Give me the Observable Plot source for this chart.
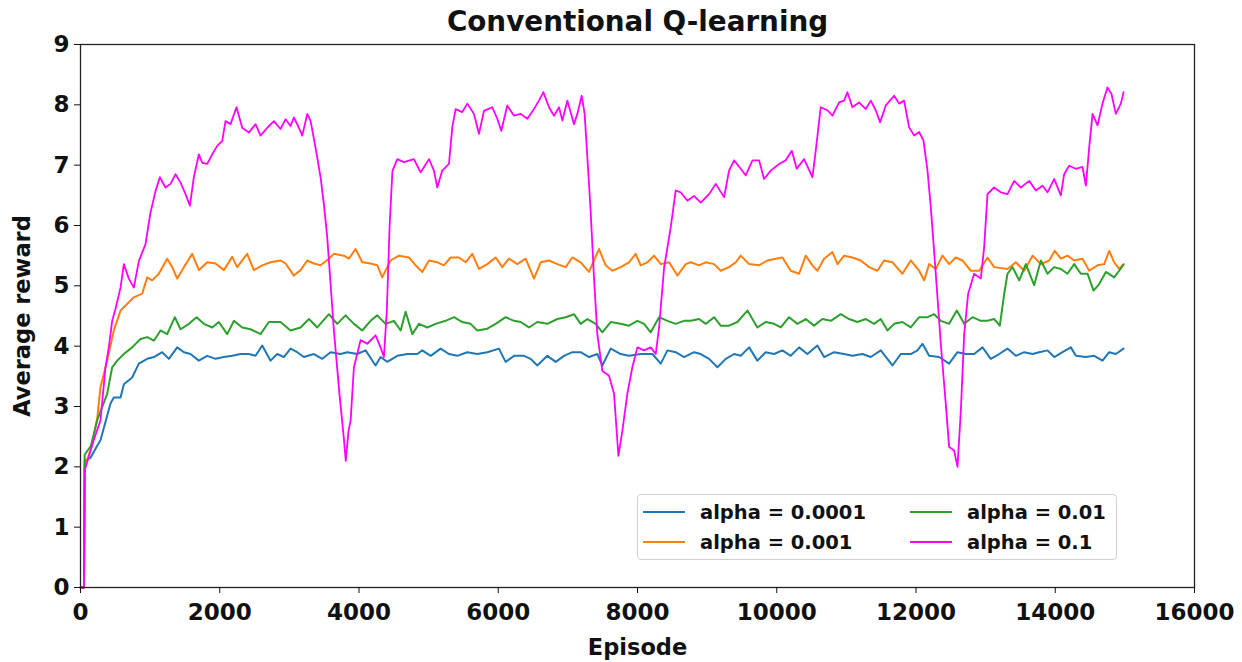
<!DOCTYPE html>
<html>
<head>
<meta charset="utf-8">
<script src="https://cdn.jsdelivr.net/npm/d3@7"></script>
<script src="https://cdn.jsdelivr.net/npm/@observablehq/plot@0.6"></script>
<style>
  html, body { margin: 0; padding: 0; background: #fff; }
  #wrap { position: relative; width: 1242px; height: 662px; font-family: "DejaVu Sans", sans-serif; }
  #legend {
    position: absolute; left: 637px; top: 494px; width: 478px; height: 64px;
    border: 1px solid #d0d0d0; border-radius: 4px; background: rgba(255,255,255,0.85);
  }
  .item { position: absolute; height: 30px; display: flex; align-items: center;
    font-weight: bold; font-size: 19.5px; color: #111; white-space: nowrap; }
  .swatch { width: 42px; height: 2px; margin-right: 15px; }
</style>
</head>
<body>
<div id="wrap"><div id="legend"></div></div>
<script>
// Average reward per episode for conventional Q-learning, one run per learning rate.
const seriesLabels = ["alpha = 0.0001", "alpha = 0.001", "alpha = 0.01", "alpha = 0.1"];
const seriesColors = ["#1f77b4", "#ff7f0e", "#2ca02c", "#ff00ff"];
const xTicks = [0, 2000, 4000, 6000, 8000, 10000, 12000, 14000, 16000];
const yTicks = [0, 1, 2, 3, 4, 5, 6, 7, 8, 9];

// [episode, average reward]
const alpha00001 = [[0,0],[50,0],[60,2.1],[144,2.15],[240,2.35],[287,2.44],[431,3.05],[479,3.15],[575,3.15],[623,3.37],[742,3.48],[838,3.71],[958,3.79],[1054,3.82],[1173,3.9],[1269,3.79],[1389,3.98],[1485,3.9],[1580,3.87],[1700,3.76],[1820,3.84],[1940,3.79],[2059,3.82],[2179,3.84],[2299,3.87],[2418,3.87],[2514,3.84],[2610,4.01],[2730,3.76],[2825,3.87],[2921,3.82],[3017,3.96],[3113,3.9],[3209,3.82],[3352,3.87],[3472,3.79],[3592,3.9],[3735,3.87],[3831,3.9],[3975,3.87],[4095,3.93],[4238,3.68],[4310,3.82],[4406,3.74],[4550,3.84],[4693,3.87],[4837,3.87],[4909,3.93],[5029,3.84],[5172,3.96],[5292,3.87],[5412,3.84],[5556,3.9],[5699,3.87],[5843,3.9],[6010,3.96],[6106,3.74],[6226,3.84],[6370,3.84],[6466,3.79],[6561,3.68],[6705,3.84],[6825,3.74],[6945,3.84],[7064,3.9],[7184,3.9],[7304,3.82],[7423,3.87],[7495,3.68],[7615,3.96],[7759,3.87],[7878,3.84],[8046,3.87],[8214,3.87],[8334,3.71],[8430,3.93],[8549,3.9],[8669,3.82],[8812,3.9],[8908,3.87],[9028,3.79],[9148,3.65],[9268,3.79],[9387,3.87],[9483,3.84],[9603,3.98],[9722,3.76],[9842,3.9],[9962,3.87],[10081,3.93],[10201,3.84],[10321,3.98],[10440,3.87],[10584,4.01],[10680,3.82],[10824,3.9],[10967,3.87],[11087,3.84],[11231,3.87],[11351,3.82],[11494,3.93],[11662,3.68],[11782,3.87],[11925,3.87],[12021,3.93],[12093,4.04],[12189,3.84],[12332,3.82],[12476,3.71],[12596,3.9],[12716,3.87],[12835,3.87],[12955,3.98],[13074,3.79],[13194,3.87],[13314,3.96],[13434,3.84],[13554,3.9],[13674,3.87],[13769,3.9],[13889,3.93],[13985,3.82],[14104,3.9],[14224,3.98],[14296,3.84],[14440,3.82],[14560,3.84],[14679,3.76],[14775,3.9],[14870,3.87],[14981,3.96]];

const alpha0001 = [[0,0],[50,0],[60,2.0],[150,2.3],[240,2.8],[287,3.32],[383,3.76],[479,4.26],[575,4.59],[670,4.7],[766,4.81],[886,4.87],[958,5.14],[1030,5.09],[1125,5.2],[1245,5.45],[1317,5.31],[1389,5.12],[1485,5.31],[1604,5.53],[1700,5.26],[1820,5.39],[1940,5.37],[2059,5.26],[2179,5.48],[2251,5.31],[2394,5.53],[2490,5.26],[2610,5.34],[2730,5.39],[2873,5.42],[2945,5.37],[3065,5.17],[3161,5.26],[3257,5.42],[3352,5.37],[3448,5.34],[3568,5.45],[3640,5.53],[3783,5.5],[3855,5.45],[3951,5.61],[4047,5.39],[4166,5.37],[4262,5.34],[4334,5.14],[4454,5.42],[4573,5.5],[4718,5.47],[4813,5.34],[4909,5.23],[5005,5.42],[5124,5.39],[5220,5.34],[5316,5.47],[5436,5.47],[5532,5.39],[5627,5.53],[5723,5.28],[5843,5.36],[5963,5.47],[6058,5.31],[6154,5.45],[6274,5.36],[6394,5.45],[6514,5.12],[6609,5.39],[6729,5.42],[6849,5.36],[6969,5.31],[7064,5.47],[7184,5.39],[7304,5.23],[7375,5.42],[7447,5.61],[7543,5.34],[7639,5.25],[7759,5.31],[7878,5.39],[7974,5.53],[8046,5.34],[8142,5.39],[8238,5.5],[8334,5.36],[8454,5.39],[8573,5.17],[8693,5.36],[8764,5.39],[8884,5.34],[8980,5.39],[9100,5.36],[9195,5.25],[9315,5.31],[9411,5.39],[9483,5.5],[9603,5.36],[9746,5.34],[9866,5.42],[9986,5.45],[10081,5.47],[10201,5.25],[10321,5.2],[10417,5.5],[10512,5.34],[10584,5.25],[10680,5.45],[10800,5.56],[10872,5.36],[10967,5.5],[11087,5.47],[11207,5.42],[11327,5.31],[11446,5.25],[11542,5.42],[11662,5.39],[11805,5.2],[11925,5.42],[12045,5.25],[12117,5.09],[12189,5.36],[12284,5.28],[12380,5.5],[12476,5.36],[12572,5.47],[12667,5.42],[12787,5.25],[12907,5.25],[13027,5.47],[13122,5.31],[13314,5.28],[13434,5.39],[13554,5.25],[13674,5.5],[13793,5.36],[13913,5.42],[13994,5.58],[14080,5.45],[14176,5.5],[14272,5.42],[14392,5.45],[14488,5.25],[14607,5.34],[14703,5.36],[14775,5.58],[14847,5.39],[14918,5.28],[14981,5.36]];

const alpha001 = [[0,0],[50,0],[60,2.2],[150,2.35],[239,2.77],[383,3.21],[455,3.65],[527,3.76],[623,3.87],[742,3.98],[862,4.12],[958,4.15],[1054,4.09],[1149,4.26],[1245,4.2],[1355,4.48],[1437,4.28],[1557,4.37],[1667,4.48],[1772,4.37],[1892,4.31],[1987,4.4],[2107,4.2],[2203,4.42],[2323,4.31],[2442,4.28],[2586,4.2],[2706,4.4],[2873,4.4],[3017,4.26],[3161,4.31],[3281,4.45],[3400,4.31],[3568,4.53],[3687,4.37],[3807,4.51],[3927,4.37],[4047,4.26],[4166,4.42],[4262,4.51],[4382,4.37],[4502,4.42],[4598,4.26],[4670,4.57],[4766,4.2],[4862,4.37],[4981,4.31],[5101,4.37],[5244,4.42],[5364,4.48],[5484,4.4],[5603,4.37],[5699,4.26],[5843,4.29],[5963,4.37],[6106,4.48],[6226,4.42],[6322,4.4],[6442,4.31],[6561,4.4],[6705,4.37],[6849,4.45],[6969,4.48],[7088,4.53],[7184,4.37],[7280,4.45],[7400,4.37],[7495,4.23],[7615,4.4],[7759,4.37],[7878,4.34],[7998,4.42],[8094,4.37],[8190,4.23],[8310,4.48],[8430,4.42],[8549,4.37],[8669,4.42],[8764,4.42],[8884,4.45],[8980,4.37],[9100,4.48],[9195,4.34],[9315,4.34],[9435,4.4],[9579,4.59],[9722,4.31],[9842,4.4],[9962,4.37],[10058,4.31],[10177,4.48],[10297,4.37],[10417,4.45],[10536,4.34],[10656,4.45],[10776,4.42],[10920,4.53],[11039,4.45],[11159,4.4],[11279,4.45],[11398,4.37],[11494,4.45],[11590,4.26],[11686,4.37],[11805,4.4],[11925,4.31],[12045,4.48],[12165,4.48],[12261,4.53],[12356,4.42],[12476,4.37],[12586,4.59],[12692,4.37],[12811,4.48],[12931,4.42],[13027,4.42],[13122,4.45],[13204,4.34],[13266,4.86],[13314,5.2],[13386,5.31],[13482,5.09],[13578,5.36],[13697,5.01],[13793,5.42],[13889,5.2],[13985,5.31],[14080,5.28],[14176,5.2],[14272,5.36],[14368,5.2],[14464,5.2],[14550,4.92],[14631,5.03],[14727,5.23],[14847,5.14],[14918,5.25],[14981,5.35]];

const alpha01 = [[0,0],[50,0],[60,1.94],[190,2.44],[287,2.77],[359,3.65],[407,3.98],[455,4.42],[503,4.62],[575,4.97],[623,5.36],[694,5.12],[766,4.97],[838,5.41],[934,5.69],[1006,6.22],[1078,6.57],[1140,6.8],[1221,6.63],[1293,6.69],[1365,6.85],[1437,6.71],[1509,6.52],[1571,6.33],[1628,6.8],[1700,7.18],[1748,7.04],[1820,7.02],[1892,7.18],[1964,7.32],[2035,7.4],[2083,7.73],[2155,7.68],[2241,7.96],[2323,7.62],[2419,7.54],[2514,7.68],[2586,7.49],[2682,7.62],[2778,7.73],[2873,7.6],[2945,7.76],[3017,7.65],[3065,7.79],[3137,7.62],[3185,7.49],[3257,7.85],[3305,7.73],[3376,7.29],[3448,6.8],[3496,6.35],[3544,5.8],[3592,5.03],[3640,4.25],[3720,3.2],[3780,2.5],[3810,2.1],[3850,2.6],[3880,2.77],[3927,3.65],[4023,4.1],[4119,4.04],[4238,4.18],[4310,3.98],[4358,3.82],[4400,4.6],[4440,6.0],[4480,6.9],[4550,7.1],[4646,7.05],[4789,7.1],[4885,6.88],[5005,7.1],[5077,6.91],[5124,6.63],[5196,6.91],[5292,7.02],[5340,7.63],[5388,7.93],[5484,7.88],[5556,8.02],[5651,7.85],[5723,7.52],[5795,7.9],[5914,7.96],[5986,7.77],[6044,7.57],[6130,7.99],[6226,7.82],[6322,7.85],[6418,7.77],[6514,7.93],[6585,8.07],[6648,8.21],[6729,7.96],[6801,7.82],[6873,7.96],[6921,7.74],[6992,8.07],[7088,7.68],[7136,7.85],[7199,8.15],[7241,7.85],[7280,7.13],[7328,6.22],[7375,5.14],[7423,4.2],[7495,3.59],[7591,3.51],[7663,3.21],[7726,2.18],[7783,2.6],[7854,3.21],[7926,3.65],[7998,3.98],[8094,3.93],[8190,3.98],[8262,3.87],[8310,4.31],[8382,5.3],[8477,5.97],[8549,6.58],[8621,6.55],[8716,6.41],[8812,6.49],[8908,6.38],[9028,6.52],[9124,6.69],[9244,6.47],[9315,6.91],[9387,7.08],[9483,6.94],[9555,6.83],[9651,7.08],[9746,7.08],[9818,6.77],[9914,6.91],[10034,7.02],[10129,7.08],[10216,7.24],[10287,6.94],[10392,7.1],[10512,6.8],[10560,7.24],[10632,7.96],[10728,7.91],[10800,7.82],[10896,8.04],[10967,8.07],[11015,8.21],[11087,7.96],[11183,8.04],[11279,7.93],[11351,8.07],[11422,7.91],[11485,7.71],[11566,7.99],[11686,8.15],[11758,8.02],[11829,8.07],[11901,7.63],[11973,7.49],[12045,7.55],[12107,7.41],[12165,6.91],[12213,6.3],[12284,5.2],[12356,4.04],[12428,3.04],[12476,2.33],[12548,2.27],[12596,2.0],[12644,2.93],[12692,4.2],[12749,4.87],[12835,5.2],[12931,5.12],[12979,5.64],[13027,6.52],[13122,6.63],[13218,6.55],[13314,6.52],[13410,6.74],[13506,6.63],[13626,6.74],[13721,6.58],[13817,6.66],[13889,6.55],[13985,6.77],[14080,6.5],[14128,6.85],[14200,6.99],[14296,6.94],[14392,6.97],[14440,6.66],[14488,7.3],[14536,7.85],[14607,7.66],[14679,8.02],[14751,8.29],[14808,8.18],[14870,7.85],[14942,8.02],[14981,8.21]];

const allSeries = [alpha00001, alpha0001, alpha001, alpha01];

const lineMarks = allSeries.map((series, i) =>
  Plot.line(series, {
    x: d => d[0],
    y: d => d[1],
    stroke: seriesColors[i],
    strokeWidth: i === 3 ? 1.8 : 2,
    strokeLinejoin: "round"
  })
);

const chart = Plot.plot({
  width: 1242,
  height: 662,
  marginLeft: 80,
  marginRight: 48,
  marginTop: 44,
  marginBottom: 75,
  style: { fontFamily: "DejaVu Sans", fontWeight: "bold", fontSize: "23px", color: "#111", background: "#fff" },
  x: { domain: [0, 16000] },
  y: { domain: [0, 9] },
  marks: [
    ...lineMarks,
    Plot.frame({ stroke: "#222", strokeWidth: 1.3 }),
    Plot.axisX({ ticks: xTicks, tickFormat: d => String(d), tickSize: 6, tickPadding: 10, label: null }),
    Plot.axisY({ ticks: yTicks, tickFormat: d => String(d), tickSize: 6, tickPadding: 5, label: null }),
    Plot.text(["Episode"], { frameAnchor: "bottom", dy: 60, lineAnchor: "middle", fontSize: 22.5, fontWeight: "bold" }),
    Plot.text(["Average reward"], { frameAnchor: "left", dx: -58, rotate: -90, textAnchor: "middle", lineAnchor: "middle", fontSize: 22.5, fontWeight: "bold" }),
    Plot.text(["Conventional Q-learning"], { frameAnchor: "top", dy: -22, lineAnchor: "middle", fontSize: 27.8, fontWeight: "bold" })
  ]
});

const wrap = document.getElementById("wrap");
wrap.insertBefore(chart, wrap.firstChild);

// Legend: two columns, two rows, in series order down each column
const legend = document.getElementById("legend");
const slots = [[5, 2], [5, 32], [272, 2], [272, 32]];
seriesLabels.forEach((label, i) => {
  const item = document.createElement("div");
  item.className = "item";
  item.style.left = slots[i][0] + "px";
  item.style.top = slots[i][1] + "px";
  const sw = document.createElement("span");
  sw.className = "swatch";
  sw.style.background = seriesColors[i];
  item.appendChild(sw);
  item.appendChild(document.createTextNode(label));
  legend.appendChild(item);
});
</script>
</body>
</html>
